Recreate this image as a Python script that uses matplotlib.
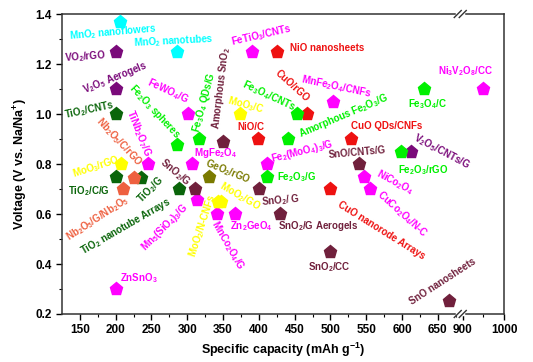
import matplotlib
matplotlib.use("Agg")
import matplotlib.pyplot as plt
import matplotlib.transforms as mtransforms
import numpy as np

plt.rcParams['font.family'] = ['Liberation Sans', 'DejaVu Sans']
plt.rcParams['font.weight'] = 'bold'
plt.rcParams['mathtext.fontset'] = 'custom'
plt.rcParams['mathtext.rm'] = 'Liberation Sans:bold'
plt.rcParams['mathtext.bf'] = 'Liberation Sans:bold'
plt.rcParams['mathtext.it'] = 'Liberation Sans:bold'
plt.rcParams['mathtext.default'] = 'rm'

# data: material, capacity (mAh/g), voltage (V), family
names = [
    "MnO$_2$ nanoflowers", "MnO$_2$ nanotubes",
    "VO$_2$/rGO", "V$_2$O$_5$ Aerogels", "V$_2$O$_5$/CNTs/G",
    "TiO$_2$/CNTs", "TiO$_2$/C/G", "TiO$_2$ nanotube Arrays", "TiO$_2$/G",
    "FeTiO$_3$/CNTs", "MnFe$_2$O$_4$/CNFs", "Ni$_3$V$_2$O$_8$/CC", "FeWO$_4$/G",
    "TiNb$_2$O$_7$/G", "MgFe$_2$O$_4$", "Fe$_2$(MoO$_4$)$_3$/G", "NiCo$_2$O$_4$",
    "CuCo$_2$O$_4$/N-C", "Mn$_5$(SiO$_4$)$_3$/G", "MnCo$_2$O$_4$/G", "Zn$_2$GeO$_4$",
    "ZnSnO$_3$",
    "NiO nanosheets", "CuO/rGO", "NiO/C", "CuO QDs/CNFs", "CuO nanorode Arrays",
    "Fe$_3$O$_4$/CNTs", "Fe$_3$O$_4$/C", "Amorphous Fe$_2$O$_3$/G", "Fe$_3$O$_4$ QDs/G",
    "Fe$_2$O$_3$ spheres", "Fe$_2$O$_3$/G", "Fe$_2$O$_3$/rGO",
    "Amorphous SnO$_2$", "SnO$_2$/G", "SnO$_2$/ G", "SnO$_2$/G Aerogels",
    "SnO/CNTs/G", "SnO$_2$/CC", "SnO nanosheets",
    "MoO$_3$/C", "MoO$_3$/rGO", "MoO$_2$/N-CNFs", "MoO$_2$/GO",
    "GeO$_2$/rGO",
    "Nb$_2$O$_5$/C/rGO", "Nb$_2$O$_5$/G/Nb$_2$O$_5$",
]
capacity = [
    206, 285,
    200, 200, 612,
    200, 200, 236, 289,
    391, 503, 948, 301,
    245, 306, 411, 547,
    555, 313, 341, 366,
    200,
    425, 467, 399, 528, 500,
    453, 631, 440, 317,
    285, 411, 599,
    350, 311, 400, 430,
    540, 500, 666,
    374, 208, 343, 347,
    331,
    225, 210,
]
voltage = [
    1.37, 1.25,
    1.25, 1.10, 0.85,
    1.00, 0.75, 0.745, 0.70,
    1.25, 1.05, 1.10, 1.00,
    0.80, 0.80, 0.80, 0.75,
    0.70, 0.655, 0.60, 0.60,
    0.30,
    1.25, 1.00, 0.90, 0.90, 0.70,
    1.00, 1.10, 0.90, 0.90,
    0.875, 0.75, 0.85,
    0.89, 0.70, 0.70, 0.60,
    0.80, 0.45, 0.25,
    1.00, 0.80, 0.65, 0.65,
    0.75,
    0.745, 0.70,
]
family = (["MnO2"] * 2 + ["V"] * 3 + ["TiO2"] * 4 + ["mixed"] * 13 +
          ["Cu/Ni"] * 5 + ["Fe"] * 7 + ["Sn"] * 7 + ["Mo"] * 4 +
          ["Ge"] + ["Nb"] * 2)

colors = {"MnO2": "#00FFFF", "V": "#7A0A7A", "TiO2": "#0A650A",
          "mixed": "#FF00FF", "Cu/Ni": "#EE1111", "Fe": "#00F000",
          "Sn": "#70203C", "Mo": "#FFFF00", "Ge": "#7A7A00", "Nb": "#EE6040"}

# label placement: (x, y, rotation)
label_xy = [
    (196, 1.328, 5), (281, 1.292, 3),
    (158, 1.228, 4), (199, 1.144, 22), (656, 0.848, -28),
    (163, 1.016, 12), (163, 0.692, 0), (214, 0.552, 30), (248, 0.696, 45),
    (403, 1.316, 13), (508, 1.108, -12), (907, 1.172, 0), (273, 1.092, -25),
    (232, 0.924, -68), (340, 0.844, 0), (460, 0.852, 14), (590, 0.728, -28),
    (600, 0.600, -42), (269, 0.548, 45), (357, 0.476, -60), (390, 0.552, 0),
    (232, 0.344, 0),
    (495, 1.264, 0), (446, 1.112, -42), (389, 0.948, 0), (578, 0.952, 0),
    (571, 0.536, -32),
    (414, 1.072, -25), (636, 1.040, 0), (518, 0.992, 23), (323, 1.048, 75),
    (254, 1.012, -47), (453, 0.748, 0), (629, 0.776, 0),
    (347, 1.104, 83), (283, 0.768, -40), (430, 0.656, 5), (483, 0.552, 0),
    (537, 0.848, 5), (499, 0.388, 0), (656, 0.328, 33),
    (382, 1.036, -15), (173, 0.788, 18), (322, 0.552, 72), (374, 0.672, -30),
    (357, 0.768, -22),
    (205, 0.888, -47), (175, 0.580, 33),
]

x_major = [150, 200, 250, 300, 350, 400, 450, 500, 550, 600, 650, 900, 1000]
x_minor = [175, 225, 275, 325, 375, 425, 475, 525, 575, 625, 675, 950]

# broken x axis: 125-680 linear, 895-1000 compressed
K = 0.573


def fwd(x):
    x = np.asarray(x, dtype=float)
    return np.where(x <= 680, x,
                    np.where(x < 895, 680 + (x - 680) * 0.01,
                             682.15 + (x - 895) * K))


def inv(u):
    u = np.asarray(u, dtype=float)
    return np.where(u <= 680, u,
                    np.where(u < 682.15, 680 + (u - 680) / 0.01,
                             895 + (u - 682.15) / K))


fig = plt.figure(figsize=(5.33, 3.62), dpi=100)
ax = fig.add_axes([0.1163, 0.1326, 0.8293, 0.8287])
ax.set_xscale('function', functions=(fwd, inv))

for n, x, y, f, (lx, ly, r) in zip(names, capacity, voltage, family, label_xy):
    c = colors[f]
    ax.plot(x, y, marker='p', ms=9.5, color=c, mec=c, ls='none', zorder=3)
    ax.text(lx, ly, n, color=c, fontsize=7, fontweight='bold', rotation=r,
            ha='center', va='center', rotation_mode='anchor', zorder=4)

ax.set_xlim(125, 1000)
ax.set_ylim(0.2, 1.4)
ax.set_xticks(x_major)
ax.set_xticklabels([str(v) for v in x_major])
ax.set_xticks(x_minor, minor=True)
ax.set_yticks(np.arange(0.2, 1.41, 0.2))
ax.set_yticks(np.arange(0.3, 1.4, 0.2), minor=True)
ax.tick_params(axis='both', which='major', labelsize=8.5, length=4, width=1)
ax.tick_params(axis='both', which='minor', length=2, width=0.8)
for lab in ax.get_xticklabels() + ax.get_yticklabels():
    lab.set_fontweight('bold')
for s in ax.spines.values():
    s.set_linewidth(1.1)
    s.set_color('#333333')

ax.set_xlabel("Specific capacity (mAh g$^{-1}$)", fontsize=9, fontweight='bold', labelpad=3)
ax.set_ylabel("Voltage (V vs. Na/Na$^{+}$)", fontsize=9, fontweight='bold', labelpad=4)

# break marks on top and bottom spines
trans = mtransforms.blended_transform_factory(ax.transData, ax.transAxes)
xb = 800
xb_ax = ax.transAxes.inverted().transform(trans.transform((xb, 0)))[0]
w = 442.0
h = 300.0
for yb in (0, 1):
    ax.plot([xb_ax - 3 / w, xb_ax + 3 / w], [yb, yb], color='white', lw=2.5,
            transform=ax.transAxes, clip_on=False, zorder=5)
    for off in (-2.5, 2.5):
        ax.plot([xb_ax + (off - 3.5) / w, xb_ax + (off + 3.5) / w],
                [yb - 3.5 / h, yb + 3.5 / h], color='#333333', lw=1,
                transform=ax.transAxes, clip_on=False, zorder=6)

fig.savefig("out.png", dpi=100)
